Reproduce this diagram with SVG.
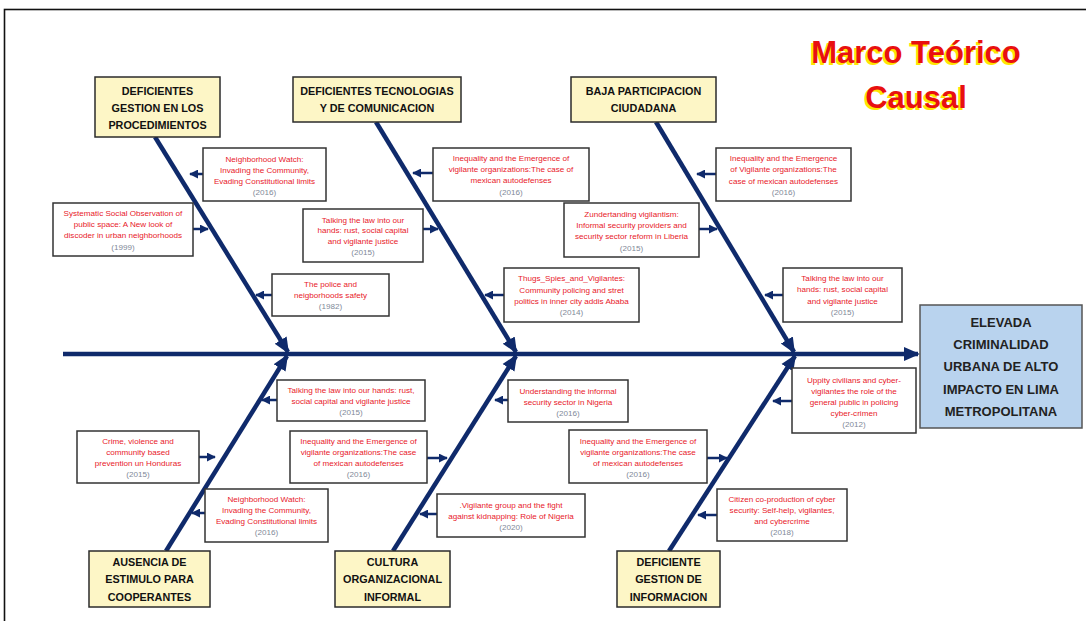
<svg xmlns="http://www.w3.org/2000/svg" width="1086" height="621" viewBox="0 0 1086 621">
<defs>
<marker id="big" markerUnits="userSpaceOnUse" markerWidth="16" markerHeight="16" viewBox="0 0 16 16" refX="14" refY="8" orient="auto"><path d="M0,1 L16,8 L0,15 Z" fill="#0f2a6b"/></marker>
<marker id="sm" markerUnits="userSpaceOnUse" markerWidth="9" markerHeight="9" viewBox="0 0 10 10" refX="9" refY="5" orient="auto"><path d="M0,0 L10,5 L0,10 Z" fill="#0f2a6b"/></marker>
</defs>
<style>
.hdr{fill:#fdf6c6;stroke:#2b2b2b;stroke-width:1.5}
.ht{font-family:"Liberation Sans",Arial,sans-serif;font-weight:bold;font-size:10.8px;fill:#111;text-anchor:middle}
.cb{fill:#fff;stroke:#333;stroke-width:1.5}
.ct{font-family:"Liberation Sans",Arial,sans-serif;font-size:8.1px;fill:#e8202a;text-anchor:middle}
.yr{font-family:"Liberation Sans",Arial,sans-serif;font-size:8.1px;fill:#7f8a99;text-anchor:middle}
.bone{stroke:#0f2a6b;stroke-width:4.5;fill:none;marker-end:url(#big)}
.sa{stroke:#0f2a6b;stroke-width:2.5;fill:none;marker-end:url(#sm)}
</style>
<rect width="1086" height="621" fill="#fff"/>
<rect x="4.5" y="9.5" width="1100" height="700" fill="none" stroke="#111" stroke-width="1.6"/>
<g id="title" font-family="Liberation Sans,Arial,sans-serif" font-weight="bold" font-size="31" text-anchor="middle">
<text x="914" y="65" fill="#ffe600">Marco Teórico</text>
<text x="916" y="63" fill="#e81010">Marco Teórico</text>
<text x="914" y="110" fill="#ffe600">Causal</text>
<text x="916" y="108" fill="#e81010">Causal</text>
</g>
<g id="connectors">
<line x1="63" y1="354" x2="918" y2="354" class="bone" stroke-width="5"/>
<line x1="155" y1="137" x2="288" y2="352" class="bone"/>
<line x1="376" y1="122" x2="516" y2="352" class="bone"/>
<line x1="656" y1="122" x2="794" y2="352" class="bone"/>
<line x1="166" y1="551" x2="287" y2="356" class="bone"/>
<line x1="393" y1="551" x2="516" y2="356" class="bone"/>
<line x1="669" y1="551" x2="795" y2="356" class="bone"/>
<line x1="203" y1="174" x2="190" y2="174" class="sa"/>
<line x1="193" y1="229" x2="208" y2="229" class="sa"/>
<line x1="272" y1="295" x2="256" y2="295" class="sa"/>
<line x1="433" y1="173" x2="413" y2="173" class="sa"/>
<line x1="423" y1="229" x2="438" y2="229" class="sa"/>
<line x1="504" y1="295" x2="485" y2="295" class="sa"/>
<line x1="699" y1="229" x2="717" y2="229" class="sa"/>
<line x1="716" y1="174" x2="697" y2="174" class="sa"/>
<line x1="783" y1="295" x2="765" y2="295" class="sa"/>
<line x1="277" y1="400" x2="262" y2="400" class="sa"/>
<line x1="199" y1="457" x2="215" y2="457" class="sa"/>
<line x1="205" y1="513" x2="192" y2="513" class="sa"/>
<line x1="427" y1="458" x2="447" y2="458" class="sa"/>
<line x1="508" y1="400" x2="495" y2="400" class="sa"/>
<line x1="437" y1="514" x2="420" y2="514" class="sa"/>
<line x1="792" y1="401" x2="773" y2="401" class="sa"/>
<line x1="707" y1="458" x2="727" y2="458" class="sa"/>
<line x1="717" y1="515" x2="698" y2="515" class="sa"/>
</g>
<g id="h1"><rect class="hdr" x="95" y="77" width="125" height="60"/><text class="ht" x="157.5" y="95">DEFICIENTES</text><text class="ht" x="157.5" y="112">GESTION EN LOS</text><text class="ht" x="157.5" y="129">PROCEDIMIENTOS</text></g>
<g id="h2"><rect class="hdr" x="293" y="77" width="168" height="45"/><text class="ht" x="377" y="95">DEFICIENTES TECNOLOGIAS</text><text class="ht" x="377" y="112">Y DE COMUNICACION</text></g>
<g id="h3"><rect class="hdr" x="571" y="77" width="145" height="45"/><text class="ht" x="643.5" y="95">BAJA PARTICIPACION</text><text class="ht" x="643.5" y="112">CIUDADANA</text></g>
<g id="h4"><rect class="hdr" x="89" y="551" width="121" height="56"/><text class="ht" x="149.5" y="566">AUSENCIA DE</text><text class="ht" x="149.5" y="583">ESTIMULO PARA</text><text class="ht" x="149.5" y="601">COOPERANTES</text></g>
<g id="h5"><rect class="hdr" x="335" y="551" width="115" height="56"/><text class="ht" x="392.5" y="566">CULTURA</text><text class="ht" x="392.5" y="583">ORGANIZACIONAL</text><text class="ht" x="392.5" y="601">INFORMAL</text></g>
<g id="h6"><rect class="hdr" x="617" y="551" width="103" height="56"/><text class="ht" x="668.5" y="566">DEFICIENTE</text><text class="ht" x="668.5" y="583">GESTION DE</text><text class="ht" x="668.5" y="601">INFORMACION</text></g>
<g id="effect"><rect x="920" y="305" width="162" height="123" fill="#b9d3ee" stroke="#555" stroke-width="1.5"/>
<g font-family="Liberation Sans,Arial,sans-serif" font-weight="bold" font-size="13" fill="#222" text-anchor="middle">
<text x="1001" y="327">ELEVADA</text><text x="1001" y="349">CRIMINALIDAD</text><text x="1001" y="371">URBANA DE ALTO</text><text x="1001" y="394">IMPACTO EN LIMA</text><text x="1001" y="416">METROPOLITANA</text></g></g>
<g id="c1"><rect class="cb" x="203" y="148" width="123" height="53"/><text class="ct" x="264.5" y="162">Neighborhood Watch:</text><text class="ct" x="264.5" y="173">Invading the Community,</text><text class="ct" x="264.5" y="184">Evading Constitutional limits</text><text class="yr" x="264.5" y="195">(2016)</text></g>
<g id="c2"><rect class="cb" x="53" y="203" width="140" height="53"/><text class="ct" x="123" y="216">Systematic Social Observation of</text><text class="ct" x="123" y="227">public space: A New look of</text><text class="ct" x="123" y="238">discoder in urban neighborhoods</text><text class="yr" x="123" y="250">(1999)</text></g>
<g id="c3"><rect class="cb" x="272" y="274" width="117" height="42"/><text class="ct" x="330.5" y="287">The police and</text><text class="ct" x="330.5" y="298">neigborhoods safety</text><text class="yr" x="330.5" y="309">(1982)</text></g>
<g id="c4"><rect class="cb" x="433" y="148" width="156" height="53"/><text class="ct" x="511" y="161">Inequality and the Emergence of</text><text class="ct" x="511" y="172">vigilante organizations:The case of</text><text class="ct" x="511" y="183">mexican autodefenses</text><text class="yr" x="511" y="195">(2016)</text></g>
<g id="c5"><rect class="cb" x="303" y="209" width="120" height="53"/><text class="ct" x="363" y="223">Talking the law into our</text><text class="ct" x="363" y="233">hands: rust, social capital</text><text class="ct" x="363" y="244">and vigilante justice</text><text class="yr" x="363" y="255">(2015)</text></g>
<g id="c6"><rect class="cb" x="504" y="268" width="135" height="54"/><text class="ct" x="571.5" y="281">Thugs_Spies_and_Vigilantes:</text><text class="ct" x="571.5" y="293">Community policing and stret</text><text class="ct" x="571.5" y="304">politics in inner city addis Ababa</text><text class="yr" x="571.5" y="315">(2014)</text></g>
<g id="c7"><rect class="cb" x="564" y="203" width="135" height="54"/><text class="ct" x="631.5" y="217">Zundertanding vigilantism:</text><text class="ct" x="631.5" y="228">Informal security providers and</text><text class="ct" x="631.5" y="239">security sector reform in Liberia</text><text class="yr" x="631.5" y="251">(2015)</text></g>
<g id="c8"><rect class="cb" x="716" y="148" width="135" height="53"/><text class="ct" x="783.5" y="161">Inequality and the Emergence</text><text class="ct" x="783.5" y="172">of Vigilante organizations:The</text><text class="ct" x="783.5" y="184">case of mexican autodefenses</text><text class="yr" x="783.5" y="195">(2016)</text></g>
<g id="c9"><rect class="cb" x="783" y="268" width="119" height="54"/><text class="ct" x="842.5" y="281">Talking the law into our</text><text class="ct" x="842.5" y="292">hands: rust, social capital</text><text class="ct" x="842.5" y="304">and vigilante justice</text><text class="yr" x="842.5" y="315">(2015)</text></g>
<g id="c10"><rect class="cb" x="277" y="380" width="148" height="41"/><text class="ct" x="351" y="393">Talking the law into our hands: rust,</text><text class="ct" x="351" y="404">social capital and vigilante justice</text><text class="yr" x="351" y="415">(2015)</text></g>
<g id="c11"><rect class="cb" x="77" y="431" width="122" height="52"/><text class="ct" x="138" y="444">Crime, violence and</text><text class="ct" x="138" y="455">community based</text><text class="ct" x="138" y="466">prevention un Honduras</text><text class="yr" x="138" y="477">(2015)</text></g>
<g id="c12"><rect class="cb" x="205" y="489" width="123" height="53"/><text class="ct" x="266.5" y="502">Neighborhood Watch:</text><text class="ct" x="266.5" y="513">Invading the Community,</text><text class="ct" x="266.5" y="524">Evading Constitutional limits</text><text class="yr" x="266.5" y="535">(2016)</text></g>
<g id="c13"><rect class="cb" x="290" y="431" width="137" height="52"/><text class="ct" x="358.5" y="444">Inequality and the Emergence of</text><text class="ct" x="358.5" y="455">vigilante organizations:The case</text><text class="ct" x="358.5" y="466">of mexican autodefenses</text><text class="yr" x="358.5" y="477">(2016)</text></g>
<g id="c14"><rect class="cb" x="508" y="380" width="120" height="42"/><text class="ct" x="568" y="394">Understanding the informal</text><text class="ct" x="568" y="405">security sector in Nigeria</text><text class="yr" x="568" y="416">(2016)</text></g>
<g id="c15"><rect class="cb" x="437" y="494" width="148" height="43"/><text class="ct" x="511" y="508">.Vigilante group and the fight</text><text class="ct" x="511" y="519">against kidnapping: Role of Nigeria</text><text class="yr" x="511" y="530">(2020)</text></g>
<g id="c16"><rect class="cb" x="792" y="368" width="124" height="65"/><text class="ct" x="854" y="383">Uppity civilians and cyber-</text><text class="ct" x="854" y="394">vigilantes the role of the</text><text class="ct" x="854" y="405">general public in policing</text><text class="ct" x="854" y="416">cyber-crimen</text><text class="yr" x="854" y="427">(2012)</text></g>
<g id="c17"><rect class="cb" x="569" y="430" width="138" height="53"/><text class="ct" x="638" y="444">Inequality and the Emergence of</text><text class="ct" x="638" y="455">vigilante organizations:The case</text><text class="ct" x="638" y="466">of mexican autodefenses</text><text class="yr" x="638" y="477">(2016)</text></g>
<g id="c18"><rect class="cb" x="717" y="489" width="130" height="52"/><text class="ct" x="782" y="502">Citizen co-production of cyber</text><text class="ct" x="782" y="513">security: Self-help, vigilantes,</text><text class="ct" x="782" y="524">and cybercrime</text><text class="yr" x="782" y="535">(2018)</text></g>
</svg>
